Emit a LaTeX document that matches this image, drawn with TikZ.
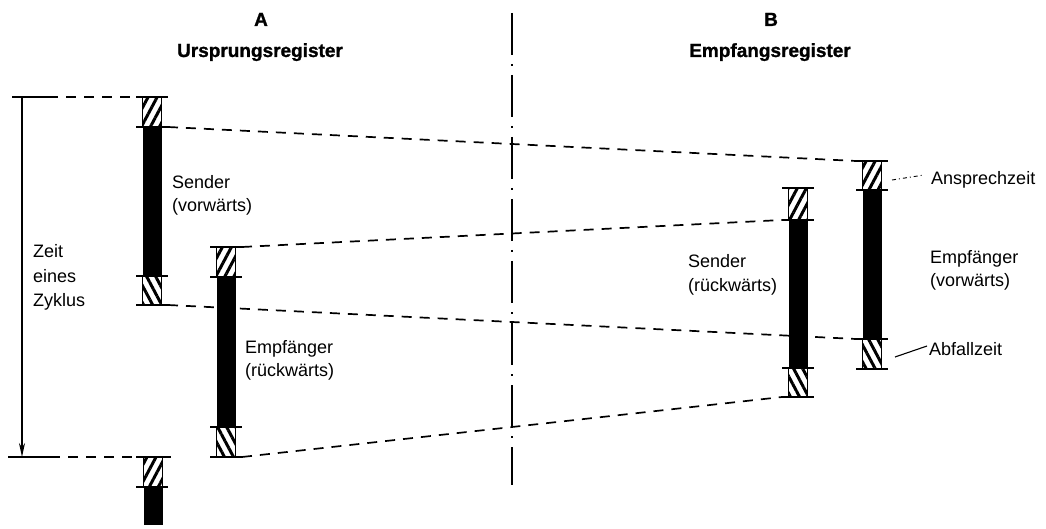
\documentclass[tikz,border=0pt]{standalone}
\usepackage{fontspec}
\setmainfont{Liberation Sans}
\newfontfamily\headfont[FakeBold=1.2]{Liberation Sans Bold}
\usetikzlibrary{patterns.meta,arrows.meta}

\pgfdeclarelayer{bg}
\pgfsetlayers{bg,main}

\tikzset{
  barmark/.style={line width=2.2pt},
  guide/.style={line width=1.7pt, dash pattern=on 10pt off 8pt},
  axisline/.style={line width=2.2pt, dash pattern=on 42pt off 9pt on 2pt off 9pt},
  lbl/.style={inner sep=0pt, anchor=base west, font=\fontsize{18}{23}\selectfont},
  ttl/.style={inner sep=0pt, anchor=base, font=\fontsize{19}{23}\selectfont\headfont},
  hatchup/.style={pattern={Lines[angle=62,distance=8pt,line width=3pt]}},
  hatchdown/.style={pattern={Lines[angle=118,distance=8pt,line width=3pt]}},
}

% #1 name, #2 centre x, #3..#6 y of the four marks
% hatched pick-up time, black on time, hatched drop-out time
\newcommand\regbar[6]{%
  \fill[white] ({#2-9.5},#3) rectangle ({#2+9.5},#4);
  \fill[hatchup] ({#2-9.5},#3) rectangle ({#2+9.5},#4);
  \draw[line width=1.8pt] ({#2-9.5},#3) -- ({#2-9.5},#4) ({#2+9.5},#3) -- ({#2+9.5},#4);
  \fill ({#2-9.5},#4) rectangle ({#2+9.5},#5);
  \fill[white] ({#2-9.5},#5) rectangle ({#2+9.5},#6);
  \fill[hatchdown] ({#2-9.5},#5) rectangle ({#2+9.5},#6);
  \draw[line width=1.8pt] ({#2-9.5},#5) -- ({#2-9.5},#6) ({#2+9.5},#5) -- ({#2+9.5},#6);
  \foreach \yy/\k in {#3/1,#4/2,#5/3,#6/4} {
    \draw[barmark] ({#2-16},\yy) coordinate (#1-\k w) -- ({#2+16},\yy) coordinate (#1-\k e);
  }%
}

\begin{document}
\begin{tikzpicture}[x=1pt,y=-1pt]
\useasboundingbox (0,0) rectangle (1046,529);

% titles
\node[ttl] (tA) at (261,26) {A};
\node[ttl] (tAreg) at (260,57) {Ursprungsregister};
\node[ttl] (tB) at (771,26) {B};
\node[ttl] (tBreg) at (770,57) {Empfangsregister};

% dividing axis
\coordinate (axtop) at (512,13);
\coordinate (axbot) at (512,485);
\draw[axisline] (axtop) -- (axbot);

% cycle time marker
\draw[barmark] (12,97) coordinate (cyctopw) -- (48,97) coordinate (cyctop);
\draw[barmark] (8,457) coordinate (cycbotw) -- (50,457) coordinate (cycbot);
\coordinate (cycA) at (22,97);
\coordinate (cycB) at (22,457);
\draw[line width=1.6pt, -{Stealth[length=14pt,width=6pt]}] (cycA) -- (cycB);

% bars
\regbar{sa}{152}{97}{127}{276}{305}
\regbar{ea}{226}{247}{277}{427}{457}
\regbar{sb}{798}{188}{220}{368}{397}
\regbar{eb}{872}{161}{190}{339}{369}

% start of the next cycle
\fill[white] (143.5,457) rectangle (162.5,487);
\fill[hatchup] (143.5,457) rectangle (162.5,487);
\draw[line width=1.8pt] (143.5,457) -- (143.5,487) (162.5,457) -- (162.5,487);
\fill (143.5,487) rectangle (162.5,525);
\draw[barmark] (136,457) coordinate (na-1w) -- (171,457) coordinate (na-1e);
\draw[barmark] (136,487) coordinate (na-2w) -- (168,487) coordinate (na-2e);

% dashed transfer lines, behind the bars
\begin{pgfonlayer}{bg}
  \draw[guide] (cyctop) -- (sa-1w);
  \draw[guide] (sa-2e) -- (eb-1w);
  \draw[guide] (sa-4e) -- (eb-3w);
  \draw[guide] (ea-1e) -- (sb-2w);
  \draw[guide] (ea-4e) -- (sb-4w);
  \draw[guide] (cycbot) -- (na-1w);
\end{pgfonlayer}

% leaders
\coordinate (ldA1) at (892,180);
\coordinate (ldA2) at (924,175);
\draw[line width=0.9pt, dash pattern=on 4pt off 3pt on 1pt off 3pt] (ldA1) -- (ldA2);
\coordinate (ldB1) at (895,357);
\coordinate (ldB2) at (927,346);
\draw[line width=1.1pt] (ldB1) -- (ldB2);

% labels
\node[lbl] (z1) at (33,258) {Zeit};
\node[lbl] (z2) at (33,282) {eines};
\node[lbl] (z3) at (33,306) {Zyklus};

\node[lbl] (s1) at (172,189) {Sender};
\node[lbl] (s2) at (172,212) {(vorwärts)};

\node[lbl] (e1) at (245,353) {Empfänger};
\node[lbl] (e2) at (245,376) {(rückwärts)};

\node[lbl] (sb1) at (688,268) {Sender};
\node[lbl] (sb2) at (688,291) {(rückwärts)};

\node[lbl] (eb1) at (930,263) {Empfänger};
\node[lbl] (eb2) at (930,286) {(vorwärts)};

\node[lbl] (an) at (931,185) {Ansprechzeit};
\node[lbl] (ab) at (929,355) {Abfallzeit};
\end{tikzpicture}
\end{document}
